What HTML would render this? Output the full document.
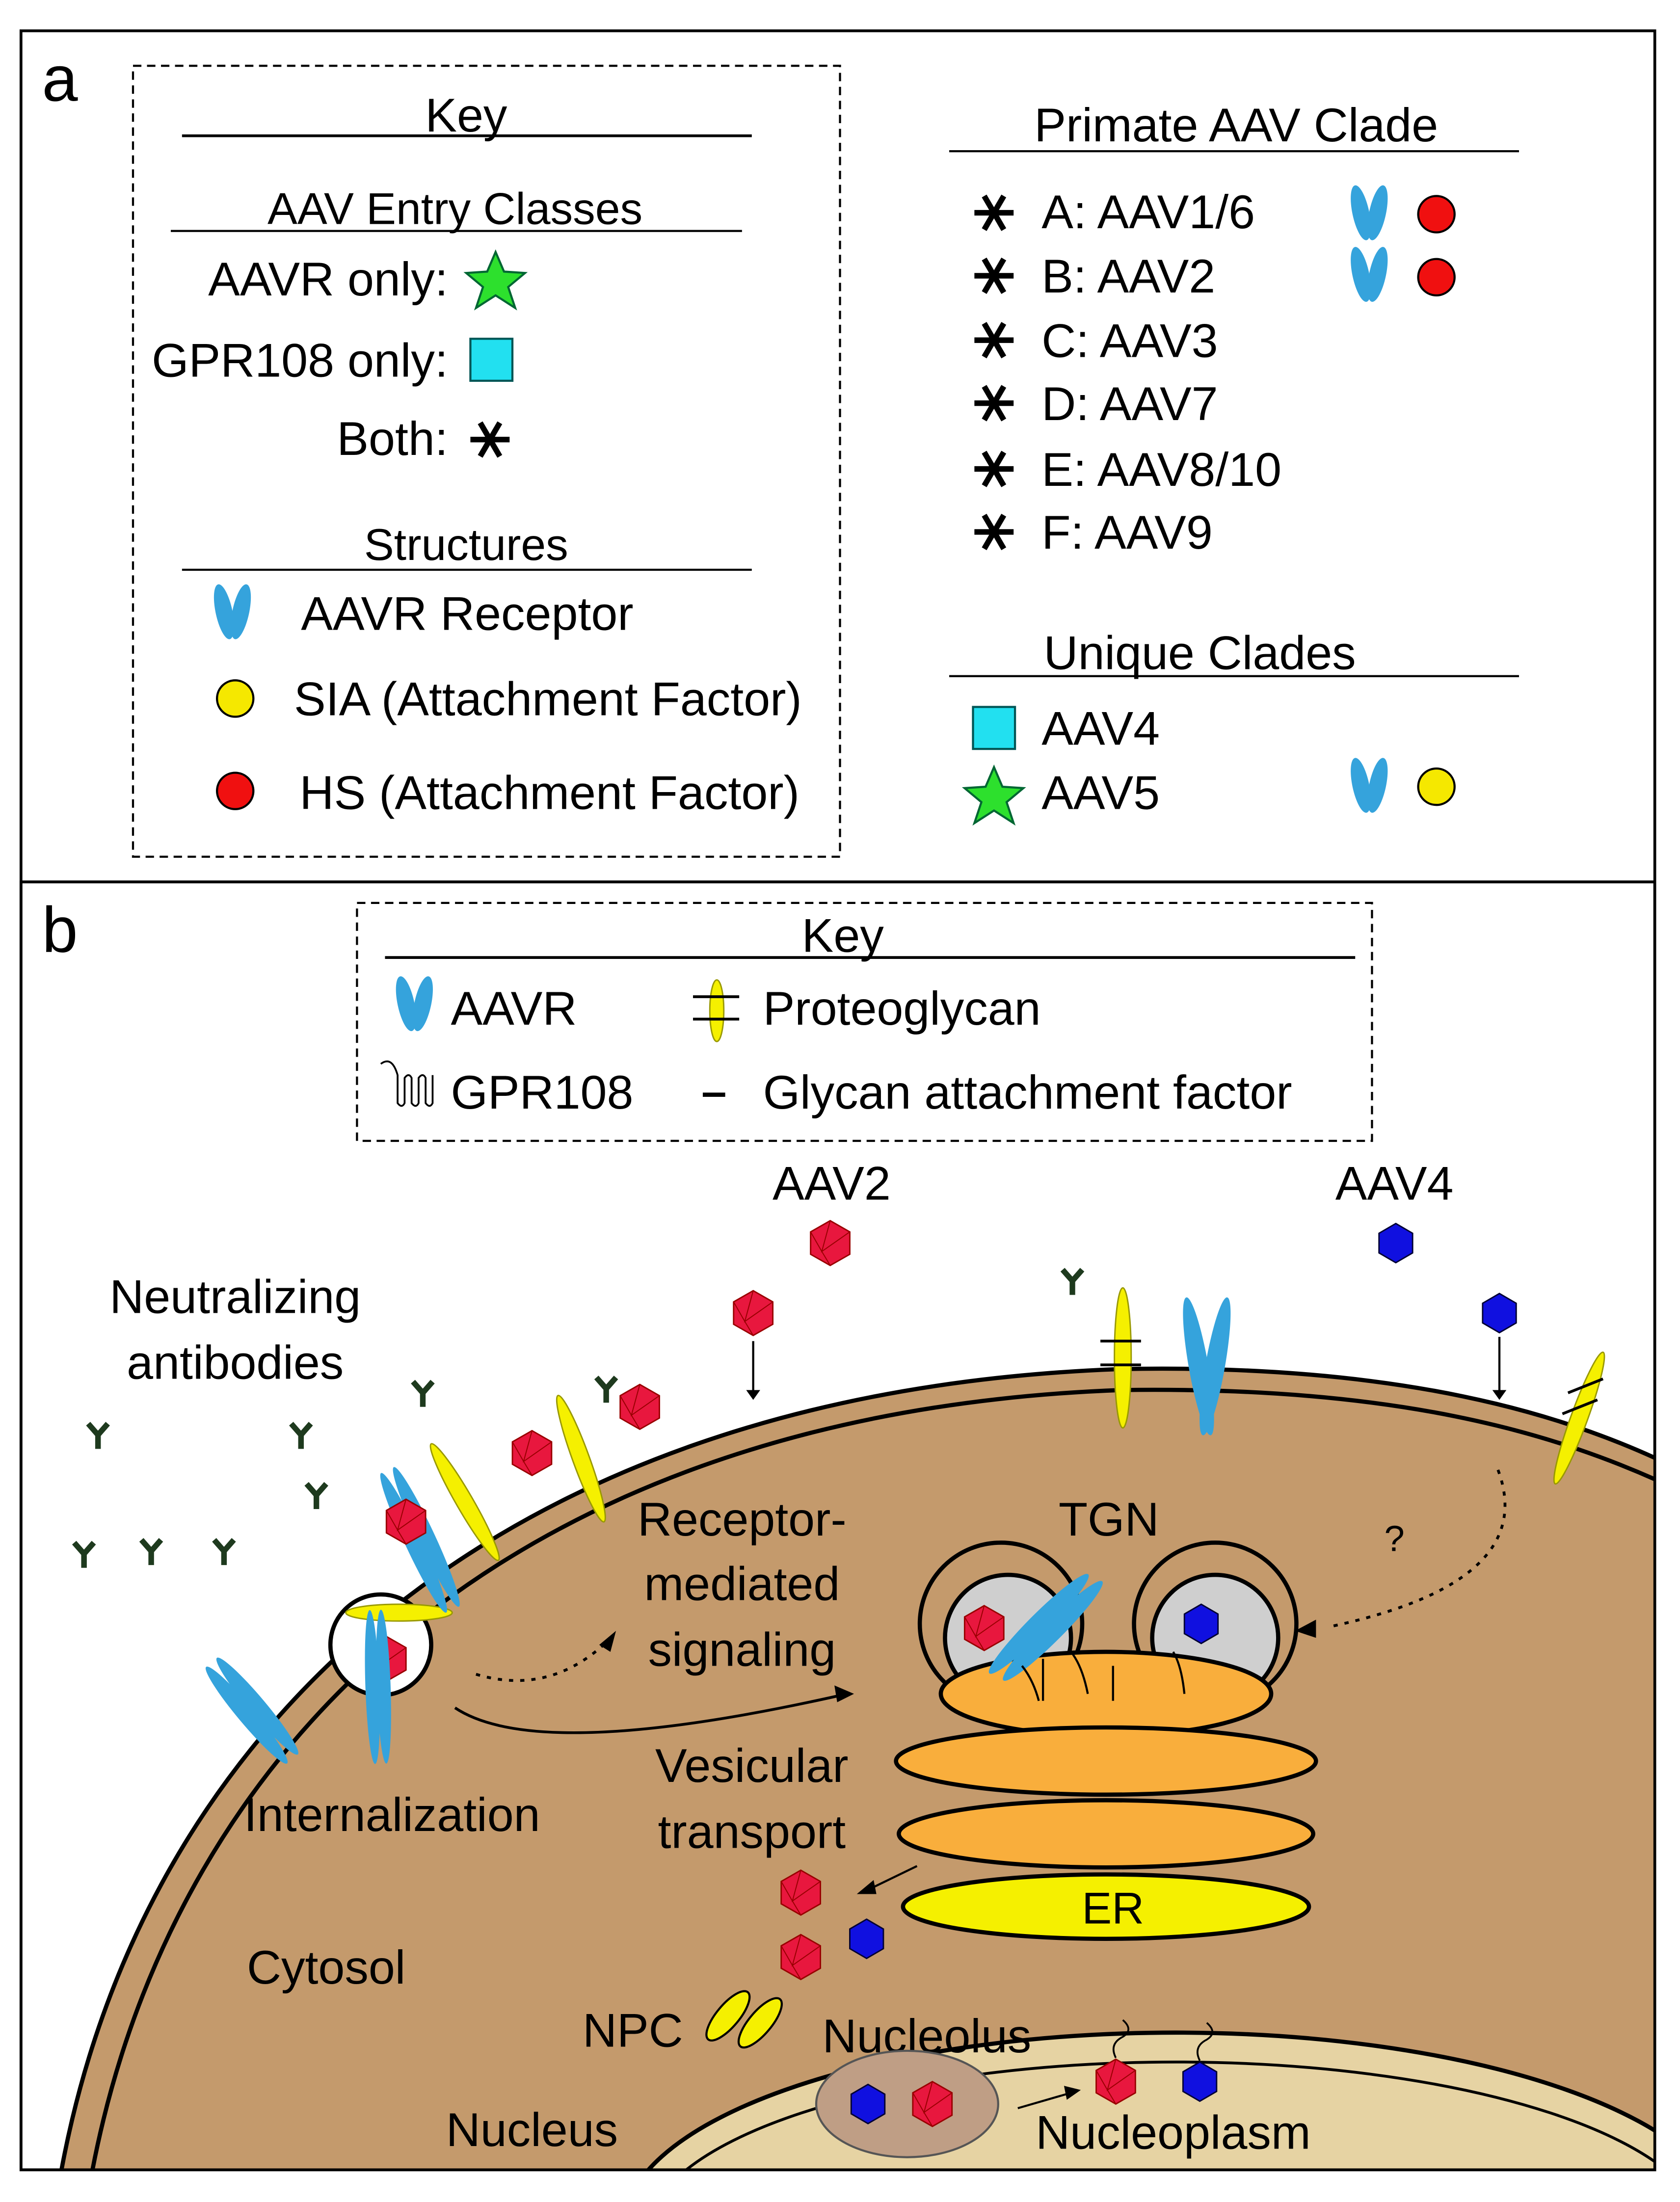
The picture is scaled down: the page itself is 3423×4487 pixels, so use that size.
<!DOCTYPE html>
<html><head><meta charset="utf-8"><style>
html,body{margin:0;padding:0;background:#fff;width:3423px;height:4487px;overflow:hidden}
svg{display:block}
text{font-family:"Liberation Sans",sans-serif;fill:#000}
</style></head><body>
<svg width="3423" height="4487" viewBox="0 0 1200 1573" xmlns="http://www.w3.org/2000/svg">
<defs>
<g id="hexr"><polygon points="0,-16 14,-8 14,8 0,16 -14,8 -14,-8" fill="#e8173e" stroke="#900" stroke-width="1"/><path d="M0,-16 L-6,6 L14,-8 M-6,6 L0,16 M-6,6 L-14,-8" stroke="#900" stroke-width="0.7" fill="none"/></g>
<g id="hexb"><polygon points="0,-14 12,-7 12,7 0,14 -12,7 -12,-7" fill="#1010e0" stroke="#003" stroke-width="1"/></g>
<g id="ab"><path d="M0,0 L0,10 M0,0 L-7,-8 M0,0 L7,-8" stroke="#1e3a1e" stroke-width="4" fill="none"/></g>
<g id="aavr"><ellipse cx="-6" cy="0" rx="6" ry="20" fill="#35a3dc" transform="rotate(-12 -6 0)"/><ellipse cx="6" cy="0" rx="6" ry="20" fill="#35a3dc" transform="rotate(12 6 0)"/></g>
<g id="ast"><path d="M-14,0 H14 M-7,-12 L7,12 M7,-12 L-7,12" stroke="#000" stroke-width="4"/></g>
<clipPath id="cb"><rect x="15" y="630" width="1167" height="920"/></clipPath>
</defs>
<rect x="15" y="22" width="1167" height="1528" fill="#fff" stroke="#000" stroke-width="2"/>
<line x1="15" y1="630" x2="1182" y2="630" stroke="#000" stroke-width="2"/>
<text x="30" y="72" font-size="46">a</text>
<text x="30" y="680" font-size="46">b</text>
<rect x="95" y="47" width="505" height="565" fill="none" stroke="#000" stroke-dasharray="6,4" stroke-width="1.5"/>
<text x="333" y="94" font-size="34" text-anchor="middle">Key</text>
<line x1="130" y1="97" x2="537" y2="97" stroke="#000" stroke-width="2"/>
<text x="325" y="160" font-size="32" text-anchor="middle">AAV Entry Classes</text>
<line x1="122" y1="165" x2="530" y2="165" stroke="#000" stroke-width="1.5"/>
<text x="320" y="211" font-size="34" text-anchor="end">AAVR only:</text>
<polygon points="354,180 360,194 375,195 363,205 368,220 354,211 340,220 345,205 333,195 348,194" fill="#2de02d" stroke="#063" stroke-width="1.5"/>
<text x="320" y="269" font-size="34" text-anchor="end">GPR108 only:</text>
<rect x="336" y="242" width="30" height="30" fill="#22e0f0" stroke="#055" stroke-width="1.5"/>
<text x="320" y="325" font-size="34" text-anchor="end">Both:</text>
<use href="#ast" x="350" y="314"/>
<text x="333" y="400" font-size="32" text-anchor="middle">Structures</text>
<line x1="130" y1="407" x2="537" y2="407" stroke="#000" stroke-width="1.5"/>
<use href="#aavr" x="166" y="437"/>
<text x="215" y="450" font-size="34">AAVR Receptor</text>
<circle cx="168" cy="499" r="13" fill="#f5e800" stroke="#000" stroke-width="1.5"/>
<text x="210" y="511" font-size="34">SIA (Attachment Factor)</text>
<circle cx="168" cy="565" r="13" fill="#f01010" stroke="#000" stroke-width="1.5"/>
<text x="214" y="578" font-size="34">HS (Attachment Factor)</text>
<text x="883" y="101" font-size="34" text-anchor="middle">Primate AAV Clade</text>
<line x1="678" y1="108" x2="1085" y2="108" stroke="#000" stroke-width="1.5"/>
<g font-size="34">
<use href="#ast" x="710" y="152"/><text x="744" y="163">A: AAV1/6</text>
<use href="#ast" x="710" y="197"/><text x="744" y="209">B: AAV2</text>
<use href="#ast" x="710" y="243"/><text x="744" y="255">C: AAV3</text>
<use href="#ast" x="710" y="288"/><text x="744" y="300">D: AAV7</text>
<use href="#ast" x="710" y="335"/><text x="744" y="347">E: AAV8/10</text>
<use href="#ast" x="710" y="380"/><text x="744" y="392">F: AAV9</text>
</g>
<use href="#aavr" x="978" y="152"/><circle cx="1026" cy="153" r="13" fill="#f01010" stroke="#000" stroke-width="1.5"/>
<use href="#aavr" x="978" y="196"/><circle cx="1026" cy="198" r="13" fill="#f01010" stroke="#000" stroke-width="1.5"/>
<text x="857" y="478" font-size="34" text-anchor="middle">Unique Clades</text>
<line x1="678" y1="483" x2="1085" y2="483" stroke="#000" stroke-width="1.5"/>
<rect x="695" y="505" width="30" height="30" fill="#22e0f0" stroke="#055" stroke-width="1.5"/>
<text x="744" y="532" font-size="34">AAV4</text>
<polygon points="710,548 716,562 731,563 719,573 724,588 710,579 696,588 701,573 689,563 704,562" fill="#2de02d" stroke="#063" stroke-width="1.5"/>
<text x="744" y="578" font-size="34">AAV5</text>
<use href="#aavr" x="978" y="561"/><circle cx="1026" cy="562" r="13" fill="#f5e800" stroke="#000" stroke-width="1.5"/>
<g clip-path="url(#cb)">
<path d="M40,1573 C90,1250 340,995 800,978 C1000,974 1120,1010 1200,1050 L1200,1573 Z" fill="#c49a6c" stroke="#000" stroke-width="3"/>
<path d="M62,1573 C112,1262 350,1010 800,993 C995,990 1110,1022 1200,1065" fill="none" stroke="#000" stroke-width="3"/>
<ellipse cx="840" cy="1592" rx="395" ry="140" fill="#e6d3a3" stroke="#000" stroke-width="3"/>
<ellipse cx="840" cy="1597" rx="378" ry="124" fill="none" stroke="#000" stroke-width="2"/>
</g>
<rect x="15" y="630" width="1167" height="920" fill="none" stroke="#000" stroke-width="2"/>
<circle cx="272" cy="1175" r="36" fill="#fff" stroke="#000" stroke-width="3"/>
<ellipse cx="285" cy="1152" rx="38" ry="6" fill="#f5f000" stroke="#990" stroke-width="1"/>
<use href="#hexr" x="276" y="1185"/>
<g transform="translate(270 1205) rotate(-2)"><ellipse cx="-4" cy="0" rx="5" ry="55" fill="#35a3dc"/><ellipse cx="4" cy="0" rx="5" ry="55" fill="#35a3dc"/></g>
<g transform="translate(180 1222) rotate(-40)"><ellipse cx="-5" cy="0" rx="6" ry="45" fill="#35a3dc"/><ellipse cx="5" cy="0" rx="6" ry="45" fill="#35a3dc"/></g>
<g transform="translate(300 1100) rotate(-25)"><ellipse cx="-5" cy="0" rx="6" ry="55" fill="#35a3dc"/><ellipse cx="5" cy="0" rx="6" ry="55" fill="#35a3dc"/></g>
<use href="#hexr" x="290" y="1087"/>
<ellipse cx="332" cy="1073" rx="6" ry="48" fill="#f5f000" stroke="#990" transform="rotate(-30 332 1073)"/>
<ellipse cx="415" cy="1042" rx="6" ry="48" fill="#f5f000" stroke="#990" transform="rotate(-20 415 1042)"/>
<use href="#hexr" x="380" y="1038"/><use href="#hexr" x="457" y="1005"/>
<use href="#ab" x="433" y="992"/>
<use href="#hexr" x="538" y="938"/><line x1="538" y1="958" x2="538" y2="995" stroke="#000" stroke-width="1.5"/><polygon points="533,993 543,993 538,1000"/>
<use href="#hexr" x="593" y="888"/>
<text x="594" y="857" font-size="34" text-anchor="middle">AAV2</text>
<text x="996" y="857" font-size="34" text-anchor="middle">AAV4</text>
<use href="#hexb" x="997" y="888"/><use href="#hexb" x="1071" y="938"/>
<line x1="1071" y1="955" x2="1071" y2="995" stroke="#000" stroke-width="1.5"/><polygon points="1066,993 1076,993 1071,1000"/>
<ellipse cx="802" cy="970" rx="6" ry="50" fill="#f5f000" stroke="#990"/>
<path d="M786,958 H815 M786,975 H815" stroke="#000" stroke-width="2"/>
<g transform="translate(862 975)"><ellipse cx="-6" cy="0" rx="7" ry="50" fill="#35a3dc" transform="rotate(-10)"/><ellipse cx="6" cy="0" rx="7" ry="50" fill="#35a3dc" transform="rotate(10)"/></g>
<use href="#ab" x="766" y="915"/>
<ellipse cx="1128" cy="1013" rx="6" ry="50" fill="#f5f000" stroke="#990" transform="rotate(20 1128 1013)"/>
<path d="M1120,995 L1145,985 M1116,1010 L1141,1000" stroke="#000" stroke-width="2"/>
<text x="168" y="938" font-size="34" text-anchor="middle">Neutralizing</text>
<text x="168" y="985" font-size="34" text-anchor="middle">antibodies</text>
<use href="#ab" x="302" y="995"/><use href="#ab" x="70" y="1025"/><use href="#ab" x="215" y="1025"/><use href="#ab" x="226" y="1068"/><use href="#ab" x="60" y="1110"/><use href="#ab" x="108" y="1108"/><use href="#ab" x="160" y="1108"/>
<rect x="255" y="645" width="725" height="170" fill="#fff" stroke="#000" stroke-dasharray="6,4" stroke-width="1.5"/>
<text x="602" y="680" font-size="34" text-anchor="middle">Key</text>
<line x1="275" y1="684" x2="968" y2="684" stroke="#000" stroke-width="2"/>
<use href="#aavr" x="296" y="717"/><text x="322" y="732" font-size="34">AAVR</text>
<ellipse cx="512" cy="722" rx="5" ry="22" fill="#f5f000" stroke="#990"/><path d="M495,712 H528 M495,728 H528" stroke="#000" stroke-width="2"/>
<text x="545" y="732" font-size="34">Proteoglycan</text>
<path d="M272,760 q8,-6 12,8 v20 q3,4 5,0 v-18 q3,-4 5,0 v18 q3,4 5,0 v-18 q3,-4 5,0 v18 q3,4 5,0 v-20" fill="none" stroke="#000" stroke-width="1.3"/>
<text x="322" y="792" font-size="34">GPR108</text>
<line x1="502" y1="782" x2="518" y2="782" stroke="#000" stroke-width="3"/>
<text x="545" y="792" font-size="34">Glycan attachment factor</text>
<circle cx="715" cy="1160" r="58" fill="none" stroke="#000" stroke-width="3"/>
<circle cx="720" cy="1170" r="45" fill="#cfcfcf" stroke="#000" stroke-width="3"/>
<circle cx="868" cy="1160" r="58" fill="none" stroke="#000" stroke-width="3"/>
<circle cx="868" cy="1170" r="45" fill="#cfcfcf" stroke="#000" stroke-width="3"/>
<ellipse cx="790" cy="1210" rx="118" ry="30" fill="#f9ae3c" stroke="#000" stroke-width="3"/>
<use href="#hexr" x="703" y="1163"/>
<ellipse cx="742" cy="1160" rx="7" ry="50" fill="#35a3dc" transform="rotate(45 742 1160)"/>
<ellipse cx="752" cy="1165" rx="7" ry="50" fill="#35a3dc" transform="rotate(45 752 1165)"/>
<use href="#hexb" x="858" y="1160"/>
<path d="M730,1190 q8,10 12,25 M765,1180 q8,10 12,30 M838,1180 q6,10 8,30 M745,1185 v30 M795,1190 v25" stroke="#000" stroke-width="1.5" fill="none"/>
<ellipse cx="790" cy="1258" rx="150" ry="24" fill="#f9ae3c" stroke="#000" stroke-width="3"/>
<ellipse cx="790" cy="1310" rx="148" ry="24" fill="#f9ae3c" stroke="#000" stroke-width="3"/>
<ellipse cx="790" cy="1362" rx="145" ry="23" fill="#f5f000" stroke="#000" stroke-width="3"/>
<text x="795" y="1374" font-size="32" text-anchor="middle">ER</text>
<text x="792" y="1097" font-size="34" text-anchor="middle">TGN</text>
<text x="530" y="1097" font-size="34" text-anchor="middle">Receptor-</text>
<text x="530" y="1143" font-size="34" text-anchor="middle">mediated</text>
<text x="530" y="1190" font-size="34" text-anchor="middle">signaling</text>
<text x="537" y="1273" font-size="34" text-anchor="middle">Vesicular</text>
<text x="537" y="1320" font-size="34" text-anchor="middle">transport</text>
<text x="280" y="1308" font-size="34" text-anchor="middle">Internalization</text>
<text x="233" y="1417" font-size="34" text-anchor="middle">Cytosol</text>
<text x="452" y="1462" font-size="34" text-anchor="middle">NPC</text>
<text x="380" y="1533" font-size="34" text-anchor="middle">Nucleus</text>
<text x="662" y="1466" font-size="34" text-anchor="middle">Nucleolus</text>
<text x="838" y="1535" font-size="34" text-anchor="middle">Nucleoplasm</text>
<text x="996" y="1108" font-size="26" text-anchor="middle">?</text>
<path d="M655,1333 L620,1350" stroke="#000" stroke-width="1.5"/><polygon points="612,1353 624,1343 626,1353"/>
<path d="M340,1196 q50,15 90,-20" stroke="#000" stroke-width="2" stroke-dasharray="3,5" fill="none"/><polygon points="440,1165 428,1175 436,1180"/>
<path d="M325,1220 q60,40 280,-10" stroke="#000" stroke-width="2" fill="none"/><polygon points="610,1210 596,1204 598,1216"/>
<path d="M1070,1050 q30,80 -120,112" stroke="#000" stroke-width="2" stroke-dasharray="3,5" fill="none"/><polygon points="925,1165 940,1157 940,1170"/>
<use href="#hexr" x="572" y="1352"/><use href="#hexr" x="572" y="1398"/><use href="#hexb" x="619" y="1385"/>
<ellipse cx="520" cy="1440" rx="8" ry="22" fill="#f5f000" stroke="#000" stroke-width="1.5" transform="rotate(40 520 1440)"/>
<ellipse cx="543" cy="1445" rx="8" ry="22" fill="#f5f000" stroke="#000" stroke-width="1.5" transform="rotate(40 543 1445)"/>
<ellipse cx="648" cy="1503" rx="65" ry="38" fill="#bf9e85" stroke="#555" stroke-width="1.5"/>
<use href="#hexb" x="620" y="1503"/><use href="#hexr" x="666" y="1503"/>
<path d="M727,1506 L765,1495" stroke="#000" stroke-width="1.5"/><polygon points="772,1493 760,1490 762,1500"/>
<use href="#hexr" x="797" y="1487"/><use href="#hexb" x="857" y="1487"/>
<path d="M797,1470 q-5,-10 5,-15 q8,-5 0,-12" stroke="#000" stroke-width="1.3" fill="none"/>
<path d="M857,1472 q-5,-10 5,-15 q8,-5 0,-12" stroke="#000" stroke-width="1.3" fill="none"/>
</svg>
</body></html>
